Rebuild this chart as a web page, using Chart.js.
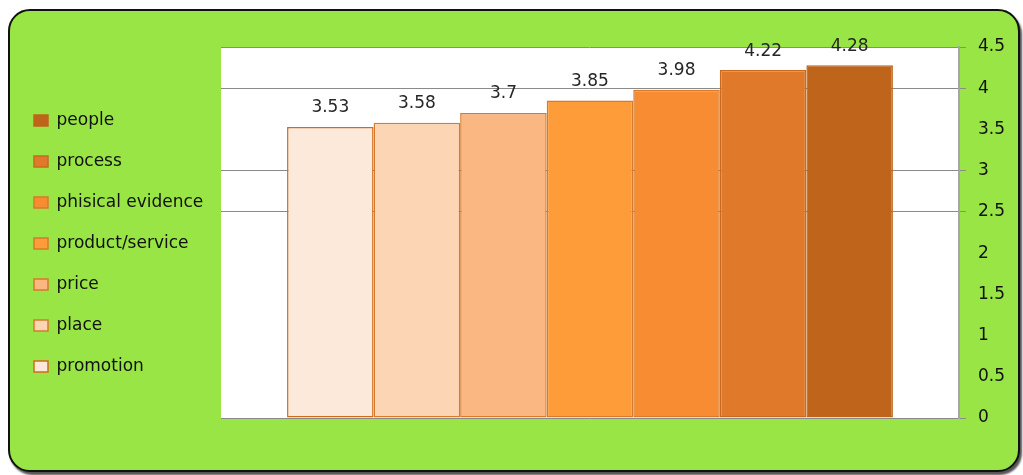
<!DOCTYPE html>
<html>
<head>
<meta charset="utf-8">
<script src="https://cdn.jsdelivr.net/npm/chart.js@4/dist/chart.umd.min.js"></script>
<style>
  body { margin: 0; background: #ffffff; }
  #box {
    position: absolute; left: 8px; top: 9px; width: 1008px; height: 459px;
    background: #9ae546; border: 2px solid #111; border-radius: 22px;
    box-shadow: 2px 3px 2px #555;
  }
  #wrap { position: absolute; left: 0; top: 0; width: 1023px; height: 475px; }
</style>
</head>
<body>
<div id="box"></div>
<div id="wrap"><canvas id="myChart" width="1023" height="475"></canvas></div>
<script>
// one bar per aspect, left to right
var names = ['promotion', 'place', 'price', 'product/service', 'phisical evidence', 'process', 'people']
var scores = [3.53, 3.58, 3.7, 3.85, 3.98, 4.22, 4.28]
var fills = ['#fde9d9', '#fcd5b4', '#fbb781', '#ff9c3a', '#f88c33', '#e07a2a', '#be641b']
var edges = ['#d2691e', '#d8792c', '#d8792c', '#d8792c', '#d8792c', '#c96a22', '#be641b']
var yTicks = [0, 0.5, 1, 1.5, 2, 2.5, 3, 3.5, 4, 4.5]
var shownLines = [0, 2.5, 3, 4, 4.5]

var sets = []
for (var i = 0; i < names.length; i++) {
  sets.push({
    label: names[i],
    data: [scores[i]],
    backgroundColor: fills[i],
    borderColor: edges[i],
    borderWidth: 1.5,
    borderSkipped: false,
    inflateAmount: 0
  })
}

function lineColor(c) {
  return shownLines.indexOf(c.tick.value) >= 0 ? '#8a8a8a' : 'rgba(0,0,0,0)'
}

var whitePlot = {
  id: 'whitePlot',
  afterInit: function(chart) {
    // legend column is wider than its text in the original
    var fit = chart.legend.fit
    chart.legend.fit = function() {
      fit.call(this)
      this.width = 211
    }
  },
  beforeDraw: function(chart) {
    var a = chart.chartArea
    chart.ctx.save()
    chart.ctx.fillStyle = '#ffffff'
    chart.ctx.fillRect(a.left, a.top, a.right - a.left, a.bottom - a.top)
    chart.ctx.restore()
  }
}

var valueLabels = {
  id: 'valueLabels',
  afterDatasetsDraw: function(chart) {
    var ctx = chart.ctx
    ctx.save()
    ctx.font = '17px "DejaVu Sans"'
    ctx.fillStyle = '#262626'
    ctx.textAlign = 'center'
    ctx.textBaseline = 'middle'
    chart.data.datasets.forEach(function(ds, k) {
      var bar = chart.getDatasetMeta(k).data[0]
      ctx.fillText(String(ds.data[0]), bar.x, bar.y - 19)
    })
    ctx.restore()
  }
}

Chart.defaults.font.family = '"DejaVu Sans"'

var chart = new Chart(document.getElementById('myChart').getContext('2d'), {
  type: 'bar',
  data: { labels: [''], datasets: sets },
  options: {
    responsive: false,
    animation: false,
    layout: { padding: { left: 10, right: 6, top: 47, bottom: 57 } },
    datasets: { bar: { categoryPercentage: 0.821, barPercentage: 1 } },
    plugins: {
      tooltip: { enabled: false },
      legend: {
        position: 'left',
        align: 'start',
        reverse: true,
        title: { display: true, text: '', font: { size: 10, lineHeight: 1 }, padding: { top: 31, bottom: 0 } },
        labels: {
          color: '#111',
          font: { size: 17 },
          boxWidth: 14,
          boxHeight: 11,
          padding: 24
        }
      }
    },
    scales: {
      x: { display: false },
      y: {
        position: 'right',
        min: 0,
        max: 4.5,
        afterBuildTicks: function(axis) {
          axis.ticks = yTicks.map(function(v) { return { value: v } })
        },
        grid: { color: lineColor, tickColor: lineColor, tickLength: 7 },
        border: { color: '#a6a6a6', width: 2 },
        ticks: {
          color: '#111',
          font: { size: 17 },
          padding: 12,
          callback: function(v) { return String(v) }
        }
      }
    }
  },
  plugins: [whitePlot, valueLabels]
})
</script>
</body>
</html>
